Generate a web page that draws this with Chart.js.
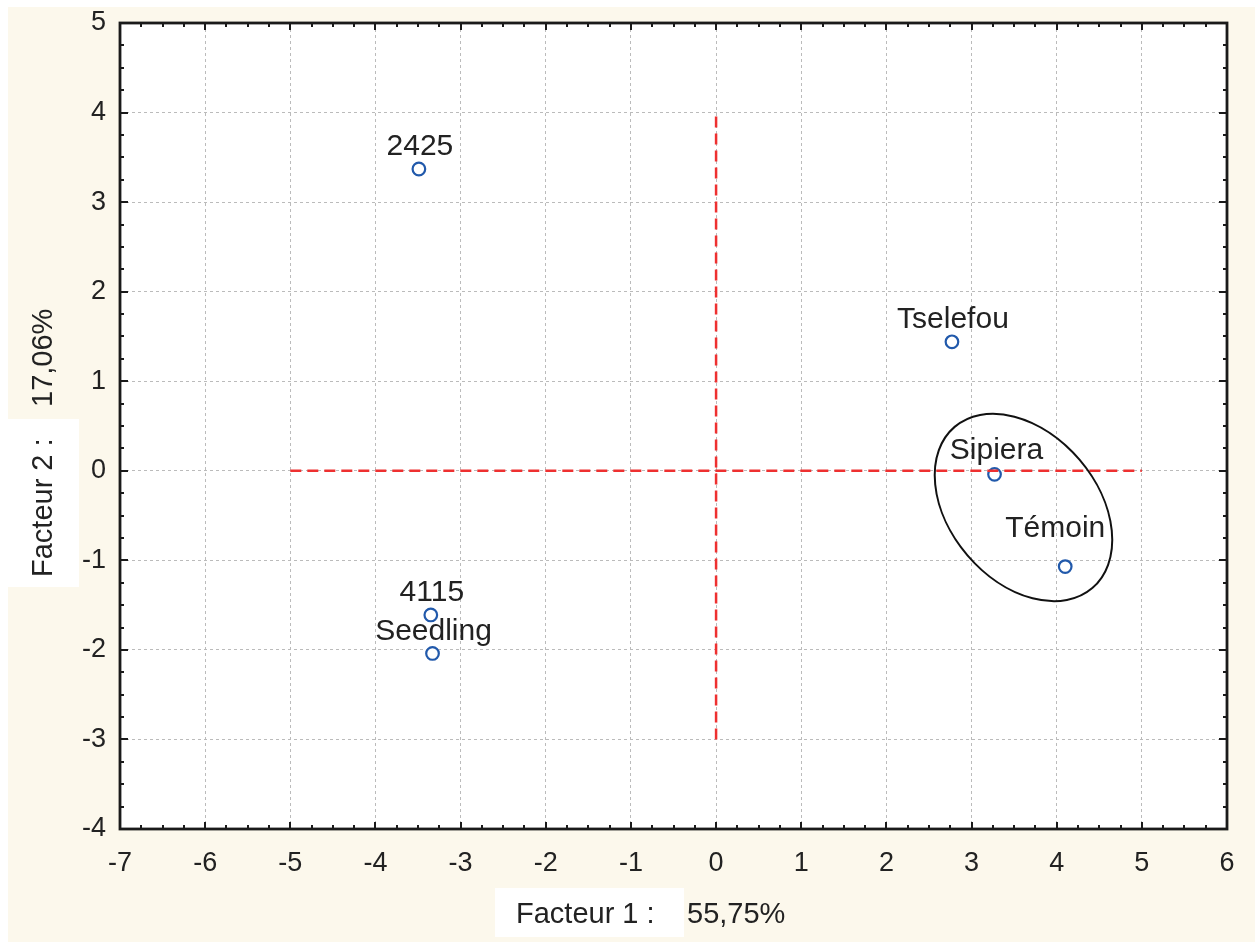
<!DOCTYPE html>
<html>
<head>
<meta charset="utf-8">
<script src="https://cdn.jsdelivr.net/npm/chart.js@4"></script>
<style>
  html, body { margin: 0; padding: 0; background: #fff; }
</style>
</head>
<body>
<canvas id="myChart" width="1255" height="942"></canvas>
<script>
// Data
const names = ['2425', 'Tselefou', 'Sipiera', 'Témoin', '4115', 'Seedling'];
const factor1 = [-3.49, 2.77, 3.27, 4.10, -3.35, -3.33];
const factor2 = [3.37, 1.44, -0.04, -1.07, -1.61, -2.04];

const xRange = [-7, 6];
const yRange = [-4, 5];

// red dashed reference lines
const hLineX = [-5, 5];
const hLineY = [0, 0];
const vLineX = [0, 0];
const vLineY = [-3, 4];

const xTitle = ['Facteur 1 :', '55,75%'];
const yTitle = ['Facteur 2 :', '17,06%'];

const chartFont = "'Liberation Sans', Arial, sans-serif";
const inkColor = '#222';

// label offsets in px (dx, dy) from each point
const labelOffsets = {
  'Témoin': [-10, -38],
  'Sipiera': [2, -24]
};

const ctx = document.getElementById('myChart').getContext('2d');

const points = names.map((n, i) => ({ x: factor1[i], y: factor2[i] }));

const backdrop = {
  id: 'backdrop',
  beforeDraw(chart) {
    const c = chart.ctx;
    const a = chart.chartArea;
    c.save();
    c.fillStyle = '#fcf8ec';
    c.fillRect(8, 7, chart.width - 8, chart.height - 7);
    c.fillStyle = '#fff';
    c.fillRect(a.left, a.top, a.right - a.left, a.bottom - a.top);
    c.restore();
  }
};

const extras = {
  id: 'extras',
  afterDatasetsDraw(chart) {
    const c = chart.ctx;
    const xs = chart.scales.x, ys = chart.scales.y;
    const unit = xs.getPixelForValue(1) - xs.getPixelForValue(0);

    // ellipse around Sipiera / Témoin
    c.save();
    c.beginPath();
    c.ellipse(xs.getPixelForValue(3.61), ys.getPixelForValue(-0.41),
      1.245 * unit, 0.865 * unit, 49.5 * Math.PI / 180, 0, Math.PI * 2);
    c.strokeStyle = '#111';
    c.lineWidth = 2;
    c.stroke();

    // point labels
    c.fillStyle = inkColor;
    c.font = `30px ${chartFont}`;
    c.textAlign = 'center';
    c.textBaseline = 'middle';
    names.forEach((n, i) => {
      const off = labelOffsets[n] || [1, -22];
      c.fillText(n, xs.getPixelForValue(factor1[i]) + off[0], ys.getPixelForValue(factor2[i]) + off[1]);
    });
    c.restore();
  },
  afterDraw(chart) {
    const c = chart.ctx;
    const a = chart.chartArea;
    const xs = chart.scales.x, ys = chart.scales.y;
    c.save();
    c.strokeStyle = '#1a1a1a';

    // ticks pointing inward on all four sides
    c.lineWidth = 2;
    c.beginPath();
    for (let v = xRange[0]; v <= xRange[1]; v += 0.25) {
      const px = Math.round(xs.getPixelForValue(v));
      const len = Number.isInteger(v) ? 7 : 4;
      c.moveTo(px, a.bottom); c.lineTo(px, a.bottom - len);
      c.moveTo(px, a.top); c.lineTo(px, a.top + len);
    }
    for (let v = yRange[0]; v <= yRange[1]; v += 0.25) {
      const py = Math.round(ys.getPixelForValue(v));
      const len = Number.isInteger(v) ? 8 : 4;
      c.moveTo(a.left, py); c.lineTo(a.left + len, py);
      c.moveTo(a.right, py); c.lineTo(a.right - len, py);
    }
    c.stroke();

    // frame
    c.lineWidth = 2.8;
    c.strokeRect(a.left, a.top, a.right - a.left, a.bottom - a.top);

    // axis titles
    c.font = `29px ${chartFont}`;
    c.textBaseline = 'middle';
    c.textAlign = 'left';
    c.fillStyle = '#fff';
    c.fillRect(495, 888, 189, 49);
    c.fillStyle = inkColor;
    c.fillText(xTitle[0], 516, 915);
    c.fillText(xTitle[1], 687, 915);

    c.translate(44, 577);
    c.rotate(-Math.PI / 2);
    c.fillStyle = '#fff';
    c.fillRect(-10, -36, 168, 71);
    c.fillStyle = inkColor;
    c.fillText(yTitle[0], 0, 0);
    c.fillText(yTitle[1], 170, 0);
    c.restore();
  }
};

const chart = new Chart(ctx, {
  type: 'scatter',
  data: {
    datasets: [
      {
        label: 'hline',
        type: 'line',
        data: hLineX.map((x, i) => ({ x: x, y: hLineY[i] })),
        borderColor: '#ee3030',
        borderWidth: 2.5,
        borderDash: [11, 6],
        pointRadius: 0,
        fill: false
      },
      {
        label: 'vline',
        type: 'line',
        data: vLineX.map((x, i) => ({ x: x, y: vLineY[i] })),
        borderColor: '#ee3030',
        borderWidth: 2.5,
        borderDash: [11, 6],
        pointRadius: 0,
        fill: false
      },
      {
        label: 'Observations',
        data: points,
        pointRadius: 6.3,
        pointBorderWidth: 2.2,
        pointBorderColor: '#2159ab',
        pointBackgroundColor: '#fff',
        pointHoverRadius: 6.3
      }
    ]
  },
  options: {
    responsive: false,
    animation: false,
    devicePixelRatio: 1,
    layout: { padding: { top: 23, right: 28, left: 0, bottom: 0 } },
    plugins: {
      legend: { display: false },
      tooltip: { enabled: false }
    },
    scales: {
      x: {
        type: 'linear',
        min: xRange[0],
        max: xRange[1],
        afterFit(scale) {
          scale.height = 113;
          scale.paddingLeft = 0;
          scale.paddingRight = 0;
        },
        ticks: {
          stepSize: 1,
          padding: 18,
          color: inkColor,
          font: { family: chartFont, size: 27 }
        },
        grid: { color: '#bbbbbb', lineWidth: 1, drawTicks: false },
        border: { display: false, dash: [3, 3] }
      },
      y: {
        type: 'linear',
        min: yRange[0],
        max: yRange[1],
        afterFit(scale) {
          scale.width = 120;
          scale.paddingTop = 0;
          scale.paddingBottom = 0;
        },
        ticks: {
          stepSize: 1,
          padding: 14,
          color: inkColor,
          font: { family: chartFont, size: 27 }
        },
        grid: { color: '#bbbbbb', lineWidth: 1, drawTicks: false },
        border: { display: false, dash: [3, 3] }
      }
    }
  },
  plugins: [backdrop, extras]
});
</script>
</body>
</html>
